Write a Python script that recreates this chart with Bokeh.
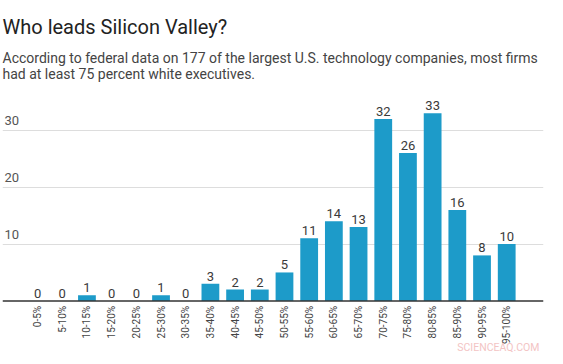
import math
from bokeh.plotting import figure
from bokeh.models import Range1d, FixedTicker, Title, ColumnDataSource, Span
from bokeh.core.properties import value
from bokeh.embed import file_html
from bokeh.resources import INLINE

categories = ["0-5%", "5-10%", "10-15%", "15-20%", "20-25%", "25-30%", "30-35%",
              "35-40%", "40-45%", "45-50%", "50-55%", "55-60%", "60-65%", "65-70%",
              "70-75%", "75-80%", "80-85%", "85-90%", "90-95%", "95-100%"]
counts = [0, 0, 1, 0, 0, 1, 0, 3, 2, 2, 5, 11, 14, 13, 32, 26, 33, 16, 8, 10]
y_ticks = [10, 20, 30]

FONT = "Roboto"
idx = list(range(len(categories)))
src = ColumnDataSource(dict(x=idx, top=counts, lab=[str(c) for c in counts],
                            cat=categories, zero=[0] * len(idx)))

X0, X1 = -1.42, 20.49
Y0, Y1 = -9.78, 37.0
p = figure(width=555, height=356, output_backend="svg", toolbar_location=None,
           x_range=Range1d(X0, X1), y_range=Range1d(Y0, Y1),
           x_axis_location=None, y_axis_location=None,
           min_border_left=2, min_border_right=12, min_border_bottom=0)
p.background_fill_color = "white"
p.border_fill_color = "white"
p.outline_line_color = None
p.xgrid.visible = False
p.ygrid.ticker = FixedTicker(ticks=y_ticks)
p.ygrid.grid_line_color = "#dddddd"
p.ygrid.grid_line_width = 1

p.vbar(x="x", top="top", width=0.72, bottom=0, source=src,
       fill_color="#1d9bc9", line_color=None)
p.add_layout(Span(location=0, dimension="width", line_color="#333333", line_width=1.5))

# value labels
p.text(x="x", y="top", text="lab", source=src, text_align="center",
       text_baseline="bottom", y_offset=-3, text_font=value(FONT),
       text_font_size="13px", text_color="#3a3a3a")

# category labels (vertical, below baseline)
p.text(x="x", y="zero", text="cat", source=src, angle=math.pi / 2,
       text_align="right", text_baseline="middle", y_offset=5,
       text_font=value(FONT), text_font_size="10px", text_color="#444444")

# y tick labels drawn above gridlines at the left
p.text(x=[X0] * len(y_ticks), y=y_ticks, text=[str(t) for t in y_ticks],
       x_offset=2, y_offset=-5, text_align="left", text_baseline="bottom",
       text_font=value(FONT), text_font_size="13px", text_color="#555555")

# watermark
p.text(x=[X1], y=[Y0], text=["SCIENCEAQ.COM"], x_offset=-4, y_offset=-9,
       text_align="right", text_baseline="middle", text_font=value(FONT),
       text_font_size="10.5px", text_color="#f3c4c4")

p.add_layout(Title(text="According to federal data on 177 of the largest U.S. technology companies, most firms\nhad at least 75 percent white executives.",
                   text_font=FONT, text_font_size="14px", text_font_style="normal",
                   text_color="#444444", text_line_height=1.05, offset=0, standoff=16), "above")
p.add_layout(Title(text="Who leads Silicon Valley?", text_font=FONT,
                   text_font_size="20px", text_font_style="normal",
                   text_color="#222222", offset=0, standoff=2), "above")
p.add_layout(Title(text=" ", text_font=FONT, text_font_size="1px",
                   offset=0, standoff=8), "above")

open("out.html", "w").write(file_html(p, INLINE))
